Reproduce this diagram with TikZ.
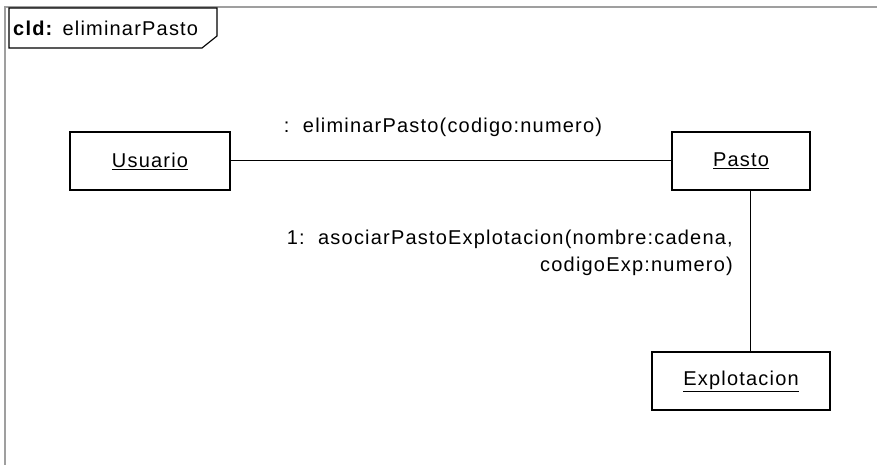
\documentclass[tikz,border=0pt]{standalone}
\usepackage{fontspec}
\setmainfont{Liberation Sans}[LetterSpace=6]
\usepackage{tikz}
\usetikzlibrary{positioning,calc}

\begin{document}
\begin{tikzpicture}[
  x=1pt, y=-1pt,
  font=\fontsize{20}{27}\selectfont,
  obj/.style={
    rectangle, draw=black, line width=1.3pt,
    minimum height=58pt, inner sep=0pt
  },
  link/.style={line width=1pt, color=black},
  msg/.style={inner sep=0pt, align=right}
]
\useasboundingbox (0,0) rectangle (877,465);

% frame of the diagram
\draw[gray!75, line width=1.6pt] (5,465) -- (5,7) -- (877,7);
\draw[black, line width=1.1pt] (9,8) -- (217,8) -- (217,36) -- (202,48) -- (9,48) -- cycle;
\node[anchor=west, inner sep=0pt] (title) at (13,28) {\textbf{cld:} eliminarPasto};

\node[obj, minimum width=160pt] (usuario) at (150,161) {\underline{Usuario}};
\node[obj, minimum width=138pt] (pasto) at (741,161) {\underline{Pasto}};
\node[obj, minimum width=178pt] (explotacion) at (741,381) {\underline{Explotacion}};

\coordinate (drop) at (750,0);
\draw[link] (usuario.east) -- (pasto.west);
\draw[link] (drop |- pasto.south) -- (drop |- explotacion.north);

\node[msg] (m0) at (443,127) {:\ \ eliminarPasto(codigo:numero)};
\node[msg, anchor=east] (m1) at (733,253) {1:\ \ asociarPastoExplotacion(nombre:cadena,\\codigoExp:numero)};
\end{tikzpicture}
\end{document}
